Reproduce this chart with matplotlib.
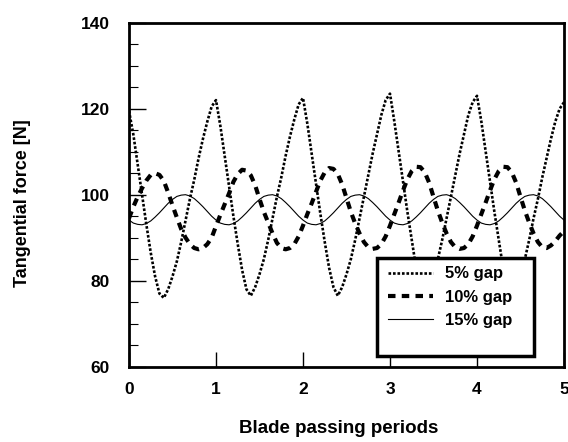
import matplotlib
matplotlib.use("Agg")
import matplotlib.pyplot as plt
import numpy as np
from matplotlib.patches import Rectangle
from matplotlib.ticker import MultipleLocator

plt.rcParams['font.family'] = ['Liberation Sans', 'DejaVu Sans']
plt.rcParams['font.weight'] = 'bold'

# sample positions (blade passing periods), step 0.05
periods = np.linspace(0, 5, 101)

gap5 = [
    119.5, 114, 107, 100, 93, 86.5, 81, 77, 76, 78, 81, 84.5, 89, 94, 99, 103.5, 108.5, 113, 117, 120.5,
    122, 116, 109, 102, 95, 88.5, 82.5, 78, 76.5, 78.5, 81.5, 85, 89.5, 94.5, 99.5, 104, 109, 113.5, 117.5, 121,
    122.5, 116.5, 109.5, 102.5, 95.5, 89, 83, 78.5, 76.5, 78.5, 81.5, 85, 89.5, 94.5, 99.5, 104.5, 109.5, 114, 118.5, 122,
    123.5, 117, 110, 103, 96, 89.5, 83, 78.5, 76.5, 78.5, 81.5, 85, 89.5, 94.5, 99.5, 104.5, 109.5, 114, 118.5, 121.5,
    123, 117, 110, 103, 96, 89.5, 83, 78.5, 76.5, 78.5, 81.5, 85, 89.5, 94.5, 99, 104, 108.5, 113, 117, 120,
    121.5,
]

gap10 = [
    94.5, 97.2, 99.5, 101.5, 103.3, 104.6, 105.0, 104.6, 103.2, 100.5, 97.5, 94.7, 92.0, 90.0, 88.5, 87.6, 87.3, 87.6, 88.5, 90.0,
    92.7, 95.3, 97.8, 100.3, 103.0, 104.8, 105.8, 105.6, 104.5, 102.2, 99.0, 96.0, 93.5, 91.0, 88.8, 87.6, 87.3, 87.6, 88.5, 90.3,
    92.8, 95.5, 98.0, 100.7, 103.3, 105.2, 106.2, 106.0, 104.8, 102.4, 99.2, 96.0, 93.3, 91.0, 89.0, 87.8, 87.4, 87.6, 88.5, 90.3,
    92.8, 95.5, 98.2, 101.0, 103.6, 105.5, 106.5, 106.4, 105.2, 102.8, 99.5, 96.3, 93.5, 91.0, 89.0, 87.8, 87.4, 87.6, 88.5, 90.3,
    92.8, 95.5, 98.2, 101.0, 103.6, 105.5, 106.5, 106.4, 105.2, 102.8, 99.5, 96.3, 93.5, 91.0, 89.0, 87.8, 87.6, 88.2, 89.2, 90.5,
    91.5,
]

gap15 = [
    94.1, 93.4, 93.1, 93.0, 93.3, 93.9, 94.8, 95.8, 96.9, 98.0, 98.9, 99.6, 99.9, 100.0, 99.7, 99.1, 98.2, 97.2, 96.1, 95.0,
    94.1, 93.4, 93.1, 93.0, 93.3, 93.9, 94.8, 95.8, 96.9, 98.0, 98.9, 99.6, 99.9, 100.0, 99.7, 99.1, 98.2, 97.2, 96.1, 95.0,
    94.1, 93.4, 93.1, 93.0, 93.3, 93.9, 94.8, 95.8, 96.9, 98.0, 98.9, 99.6, 99.9, 100.0, 99.7, 99.1, 98.2, 97.2, 96.1, 95.0,
    94.1, 93.4, 93.1, 93.0, 93.3, 93.9, 94.8, 95.8, 96.9, 98.0, 98.9, 99.6, 99.9, 100.0, 99.7, 99.1, 98.2, 97.2, 96.1, 95.0,
    94.1, 93.4, 93.1, 93.0, 93.3, 93.9, 94.8, 95.8, 96.9, 98.0, 98.9, 99.6, 99.9, 100.0, 99.7, 99.1, 98.2, 97.2, 96.1, 95.0,
    94.1,
]

series_labels = ['5% gap', '10% gap', '15% gap']
x_ticks = [0, 1, 2, 3, 4, 5]
y_ticks = [60, 80, 100, 120, 140]

fig = plt.figure(figsize=(5.68, 4.42), dpi=100)
ax = fig.add_axes([129 / 568, 1 - 366.7 / 442, 435 / 568, 344 / 442])

ax.plot(periods, gap5, color='black', lw=1.9, ls=(0, (1, 0.7)), label=series_labels[0], zorder=3)
ax.plot(periods, gap10, color='black', lw=3.0, ls=(0, (1.8, 1.5)), label=series_labels[1], zorder=3)
ax.plot(periods, gap15, color='black', lw=0.8, ls='-', label=series_labels[2], zorder=3)

ax.set_xlim(0, 5)
ax.set_ylim(60, 140)
ax.set_xticks(x_ticks)
ax.set_yticks(y_ticks)
ax.yaxis.set_minor_locator(MultipleLocator(5))
ax.tick_params(axis='y', which='major', direction='in', length=12, width=1, labelsize=12.5, pad=14)
ax.tick_params(axis='y', which='minor', direction='in', length=6.5, width=0.8)
ax.tick_params(axis='x', which='major', direction='in', length=11, width=1, labelsize=12.5, pad=11)
for s in ax.spines.values():
    s.set_linewidth(2)

ax.set_xlabel('Blade passing periods', fontsize=13.5, fontweight='bold')
ax.xaxis.set_label_coords(0.483, -0.155)
ax.set_ylabel('Tangential force [N]', fontsize=13, fontweight='bold')
ax.yaxis.set_label_coords(-0.225, 0.476)

# legend box
box = Rectangle((0.570, 0.031), 0.36, 0.285, transform=ax.transAxes,
                facecolor='white', edgecolor='black', lw=2.5, zorder=4)
ax.add_patch(box)
leg = ax.legend(loc='upper left', bbox_to_anchor=(0.570, 0.323), frameon=False,
                fontsize=12, handlelength=2.7, handletextpad=0.75, labelspacing=0.5,
                borderpad=0.65, borderaxespad=0)
leg.set_zorder(5)

fig.savefig('out.png', dpi=100)
